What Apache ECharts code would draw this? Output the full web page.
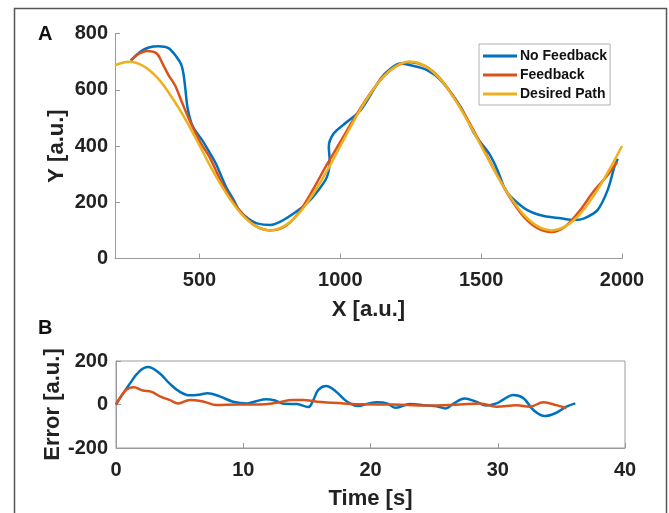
<!DOCTYPE html>
<html>
<head>
<meta charset="utf-8">
<script src="https://cdn.jsdelivr.net/npm/echarts@6/dist/echarts.min.js"></script>
<style>
html,body{margin:0;padding:0;background:#fff;}
#c{width:669px;height:513px;}
</style>
</head>
<body>
<div id="c"></div>
<script>
// ---- Panel A: path data (X, Y in a.u.) ----
var desiredX = [200,250,300,350,400,450,500,550,600,650,700,750,800,850,900,950,1000,1050,1100,1150,1200,1250,1300,1350,1400,1450,1500,1550,1600,1650,1700,1750,1800,1850,1900,1950,2000];
var desiredY = [687,700,685,643,576,495,402,307,224,157,115,100,115,157,224,307,400,493,576,643,685,700,685,643,576,493,400,307,224,157,115,100,115,157,224,307,400];

var noFbX = [256,290,320,354,390,419,435,443,449,457,470,484,510,538,558,594,620,641,675,704,751,787,834,881,920,953,962,959,977,1024,1072,1143,1178,1214,1249,1308,1356,1427,1475,1500,1530,1558,1581,1605,1664,1723,1783,1831,1866,1913,1949,1973,1985];
var noFbY = [704,735,750,755,748,716,690,657,610,539,485,456,420,373,338,255,210,172,140,125,119,131,160,196,240,291,350,397,445,486,527,639,675,693,687,670,634,539,445,410,370,314,255,220,172,151,143,137,143,172,243,326,355];

var fbX = [256,285,313,348,372,390,413,437,467,502,538,580,620,660,700,750,800,850,900,950,1000,1050,1100,1150,1200,1250,1300,1350,1400,1450,1500,1550,1600,1650,1700,1750,1800,1850,1900,1950,1983];
var fbY = [704,728,738,729,687,652,616,557,486,415,356,267,200,150,115,100,112,160,240,330,415,500,578,643,685,698,685,645,578,497,405,310,220,150,108,94,115,170,240,298,344];

// ---- Panel B: error over time ----
var noFbT = [0,1.1,1.8,2.5,3.4,4.2,5.0,5.8,6.5,7.2,8.2,9.2,10.3,11.0,11.8,12.5,13.2,14.2,15.1,15.5,15.9,16.5,17.3,18.0,18.5,19.0,19.7,20.5,21.3,22.0,23.1,24.4,25.2,25.9,26.5,27.4,28.3,29.1,29.9,30.5,31.2,32.0,32.8,33.7,34.6,35.4,36.1];
var noFbE = [0,97,150,172,145,97,59,42,45,52,36,13,5,15,24,18,3,2,-12,20,67,85,59,20,2,-7,2,10,5,-15,2,-5,-8,-18,3,28,13,-5,5,25,44,30,-25,-53,-38,-10,5];

var fbT = [0,0.8,1.4,2.1,2.8,3.5,4.2,4.9,5.8,6.9,7.9,9.5,11.3,12.6,13.9,14.7,15.8,17.9,19.4,21.8,24.4,27.0,28.6,29.9,31.5,32.5,33.6,34.6,35.4];
var fbE = [0,67,79,64,58,36,21,5,21,13,-2,0,0,8,21,21,13,5,1,0,-5,0,5,-10,-3,-10,10,-3,-17];

// ---- Axis ticks ----
var xTicksA = [500,1000,1500,2000];
var yTicksA = [0,200,400,600,800];
var xTicksB = [0,10,20,30,40];
var yTicksB = [-200,0,200];

var seriesNames = ['No Feedback','Feedback','Desired Path'];
var colors = ['#0072BD','#D95319','#EDB120'];

function pairs(xs, ys){ return xs.map(function(x,i){ return [x, ys[i]]; }); }
function plain(v){ return String(v); }

var FONT = '"Liberation Sans", Arial, Helvetica, sans-serif';
var axisLineStyle = {color:'#9a9a9a', width:1};
var tickLabel = {color:'#222', fontFamily:FONT, fontWeight:'bold', fontSize:20, formatter:plain};
var nameStyle = {color:'#222', fontFamily:FONT, fontWeight:'bold', fontSize:22};

var chart = echarts.init(document.getElementById('c'), null, {renderer:'canvas'});
chart.setOption({
  animation:false,
  backgroundColor:'#fff',
  color: colors,
  textStyle:{fontFamily:FONT},
  graphic:[
    {type:'rect', shape:{x:14.5, y:8.5, width:652, height:520}, style:{fill:'none', stroke:'#555', lineWidth:1.5}, z:-1},
    {type:'text', left:38, top:24, style:{text:'A', font:'bold 20px ' + FONT, fill:'#111'}},
    {type:'text', left:38, top:318, style:{text:'B', font:'bold 20px ' + FONT, fill:'#111'}}
  ],
  legend:{
    data: seriesNames,
    orient:'vertical',
    left:479, top:44,
    padding:[4,3,3,4],
    icon:'rect',
    itemWidth:34, itemHeight:3, itemGap:3,
    backgroundColor:'#fff',
    borderColor:'#b0b0b0', borderWidth:1,
    textStyle:{color:'#111', fontFamily:FONT, fontWeight:'bold', fontSize:14, lineHeight:16, padding:[0,0,0,-2]}
  },
  grid:[
    {left:115, right:47, top:33.5, bottom:254.5},
    {left:116, right:44, top:361, bottom:65, show:true, borderColor:'#9a9a9a', borderWidth:1, backgroundColor:'transparent'}
  ],
  xAxis:[
    {gridIndex:0, type:'value', min:200, max:2000,
     name:'X [a.u.]', nameLocation:'middle', nameGap:40, nameTextStyle:nameStyle,
     axisLine:{show:true, lineStyle:axisLineStyle},
     axisTick:{show:true, inside:true, length:5, lineStyle:axisLineStyle, customValues:xTicksA},
     axisLabel:Object.assign({margin:12, customValues:xTicksA}, tickLabel),
     splitLine:{show:false}},
    {gridIndex:1, type:'value', min:0, max:40, interval:10,
     name:'Time [s]', nameLocation:'middle', nameGap:40, nameTextStyle:nameStyle,
     axisLine:{show:true, onZero:false, lineStyle:axisLineStyle},
     axisTick:{show:true, inside:true, length:5, lineStyle:axisLineStyle},
     axisLabel:Object.assign({margin:12}, tickLabel),
     splitLine:{show:false}}
  ],
  yAxis:[
    {gridIndex:0, type:'value', min:0, max:800, interval:200,
     name:'Y [a.u.]', nameLocation:'middle', nameGap:47, nameMoveOverlap:false, nameTextStyle:nameStyle,
     axisLine:{show:true, lineStyle:axisLineStyle},
     axisTick:{show:true, inside:true, length:5, lineStyle:axisLineStyle},
     axisLabel:Object.assign({margin:7}, tickLabel),
     splitLine:{show:false}},
    {gridIndex:1, type:'value', min:-200, max:200, interval:200,
     name:'Error [a.u.]', nameLocation:'middle', nameGap:52, nameMoveOverlap:false, nameTextStyle:nameStyle,
     axisLine:{show:true, onZero:false, lineStyle:axisLineStyle},
     axisTick:{show:true, inside:true, length:5, lineStyle:axisLineStyle},
     axisLabel:Object.assign({margin:8}, tickLabel),
     splitLine:{show:false}}
  ],
  series:[
    {name:seriesNames[0], type:'line', xAxisIndex:0, yAxisIndex:0, data:pairs(noFbX,noFbY), symbol:'none', smooth:0.3, lineStyle:{width:2.5, color:colors[0]}, itemStyle:{color:colors[0]}, z:3},
    {name:seriesNames[1], type:'line', xAxisIndex:0, yAxisIndex:0, data:pairs(fbX,fbY), symbol:'none', smooth:0.3, lineStyle:{width:2.5, color:colors[1]}, itemStyle:{color:colors[1]}, z:4},
    {name:seriesNames[2], type:'line', xAxisIndex:0, yAxisIndex:0, data:pairs(desiredX,desiredY), symbol:'none', smooth:0.4, lineStyle:{width:2.5, color:colors[2]}, itemStyle:{color:colors[2]}, z:5},
    {name:seriesNames[0], type:'line', xAxisIndex:1, yAxisIndex:1, data:pairs(noFbT,noFbE), symbol:'none', smooth:0.4, lineStyle:{width:2.5, color:colors[0]}, itemStyle:{color:colors[0]}, z:3},
    {name:seriesNames[1], type:'line', xAxisIndex:1, yAxisIndex:1, data:pairs(fbT,fbE), symbol:'none', smooth:0.4, lineStyle:{width:2.5, color:colors[1]}, itemStyle:{color:colors[1]}, z:4}
  ]
});
</script>
</body>
</html>
